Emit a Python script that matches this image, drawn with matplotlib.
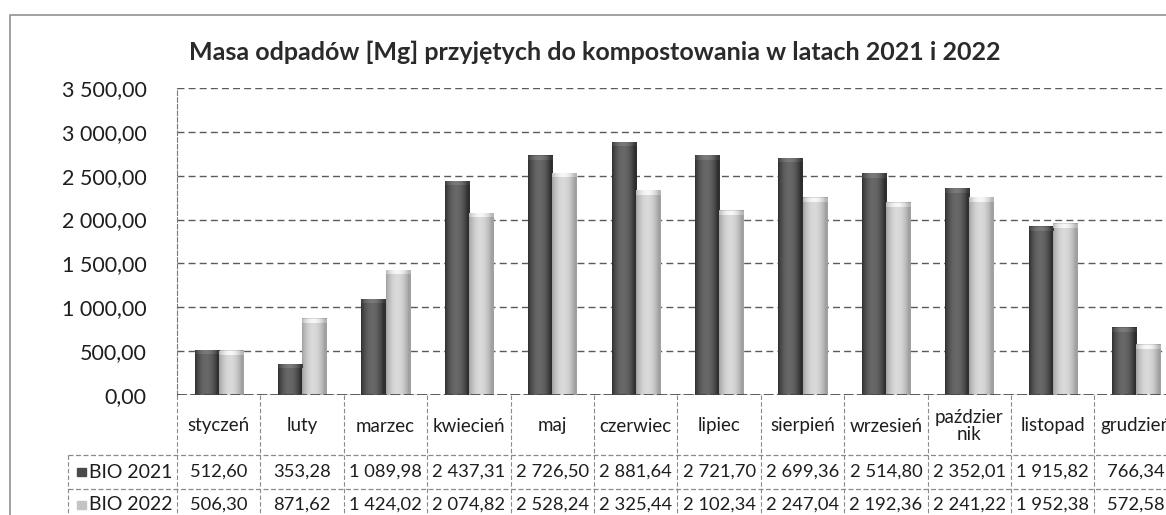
import numpy as np
import matplotlib
matplotlib.use("Agg")
import matplotlib.pyplot as plt
from matplotlib.lines import Line2D
from matplotlib.transforms import blended_transform_factory

months = ["styczeń", "luty", "marzec", "kwiecień", "maj", "czerwiec",
          "lipiec", "sierpień", "wrzesień", "paździer\nnik", "listopad", "grudzień"]
bio_2021 = [512.60, 353.28, 1089.98, 2437.31, 2726.50, 2881.64,
            2721.70, 2699.36, 2514.80, 2352.01, 1915.82, 766.34]
bio_2022 = [506.30, 871.62, 1424.02, 2074.82, 2528.24, 2325.44,
            2102.34, 2247.04, 2192.36, 2241.22, 1952.38, 572.58]
series_labels = ["BIO 2021", "BIO 2022"]
y_ticks = [0, 500, 1000, 1500, 2000, 2500, 3000, 3500]
title = "Masa odpadów [Mg] przyjętych do kompostowania w latach 2021 i 2022"

W, H = 1166, 515
plt.rcParams['font.family'] = ['Lato', 'DejaVu Sans']
TXT = '#1e1e1e'


def pl_format(v):
    """polish number format: 1 089,98"""
    return f"{v:,.2f}".replace(",", " ").replace(".", ",")


def shade_bar(ax, patch, edge, centre):
    # horizontal gradient, like the excel cylinder-ish fill
    t = np.linspace(0, 1, 64)
    prof = np.sin(np.pi * np.clip(t * 1.1, 0, 1)) ** 0.8
    e = np.array(matplotlib.colors.to_rgb(edge))
    c = np.array(matplotlib.colors.to_rgb(centre))
    img = e[None, :] + prof[:, None] * (c - e)[None, :]
    x0, w, h = patch.get_x(), patch.get_width(), patch.get_height()
    ax.imshow(img[None, :, :], extent=(x0, x0 + w, 0, h), aspect='auto',
              interpolation='bilinear', zorder=3)
    # slightly lighter rounded top, 4 px high
    cap = np.clip(img * 1.1 + 0.03, 0, 1)
    ch = 3500 * 4 / 307
    ax.imshow(cap[None, :, :], extent=(x0, x0 + w, h - ch, h), aspect='auto',
              interpolation='bilinear', zorder=4)


def plot_compost():
    fig = plt.figure(figsize=(W / 100, H / 100), dpi=100)
    fx = lambda x: x / W
    fy = lambda y: 1 - y / H

    # plot area: 12 columns of ~83.4 px from x=177 (cut off at the right), y 88..395 px
    ax = fig.add_axes([fx(177), fy(395), 12 * 83.4 / W, (395 - 88) / H])
    x = np.arange(len(months))
    bw = 0.29
    b1 = ax.bar(x - bw / 2, bio_2021, bw, color='#4a4a4a', zorder=2)
    b2 = ax.bar(x + bw / 2, bio_2022, bw, color='#c4c4c4', zorder=2)
    ax.set_autoscale_on(False)
    ax.set_xlim(-0.5, len(months) - 0.5)
    ax.set_ylim(0, 3500)
    for p in b1:
        shade_bar(ax, p, '#2e2e2e', '#686868')
    for p in b2:
        shade_bar(ax, p, '#a0a0a0', '#dadada')

    ax.set_yticks(y_ticks)
    ax.set_yticklabels([pl_format(v) for v in y_ticks], fontsize=15.5, color=TXT)
    ax.tick_params(axis='y', length=0, pad=22)
    ax.set_xticks([])
    ax.grid(axis='y', color='#5a5a5a', ls=(0, (5, 3)), lw=1.0, zorder=1)
    for s in ['top', 'right', 'bottom']:
        ax.spines[s].set_visible(False)
    ax.spines['left'].set_color('#777777')
    ax.spines['left'].set_linestyle((0, (4, 2)))
    ax.axhline(0, color='#444444', lw=1.2, ls=(0, (6, 2)), zorder=5)

    fig.text(fx(595), fy(52), title, ha='center', va='center',
             fontsize=18, fontweight='bold', color='#2a2a2a')

    # data table below the plot
    tr = blended_transform_factory(ax.transData, fig.transFigure)
    tcol = '#8a8a8a'
    for i, m in enumerate(months):
        ax.text(i, fy(426), m, transform=tr, ha='center', va='center',
                fontsize=13.5, color=TXT, linespacing=1.0, clip_on=False)
        ax.text(i, fy(472), pl_format(bio_2021[i]), transform=tr, ha='center',
                va='center', fontsize=13.2, color=TXT, clip_on=False)
        ax.text(i, fy(505), pl_format(bio_2022[i]), transform=tr, ha='center',
                va='center', fontsize=13.2, color=TXT, clip_on=False)
    for k in range(len(months) + 1):
        fig.add_artist(Line2D([k - 0.5, k - 0.5], [fy(395), fy(H + 5)], transform=tr,
                              color=tcol, lw=0.8, ls=(0, (4, 2))))
    for yy in (455, 489):
        fig.add_artist(Line2D([fx(68), 1.0], [fy(yy), fy(yy)], transform=fig.transFigure,
                              color=tcol, lw=0.9, ls=(0, (4, 2))))
    fig.add_artist(Line2D([fx(68), fx(68)], [fy(455), fy(H + 5)], transform=fig.transFigure,
                          color=tcol, lw=0.8, ls=(0, (4, 2))))

    # row labels with legend keys
    for lab, yy, col in zip(series_labels, (472, 505), ('#4a4a4a', '#c4c4c4')):
        fig.patches.append(plt.Rectangle((fx(77), fy(yy + 4)), fx(9), 8 / H,
                                         transform=fig.transFigure, color=col))
        fig.text(fx(89), fy(yy), lab, ha='left', va='center', fontsize=14, color=TXT)

    # outer chart border (right and bottom edges are cropped)
    fig.add_artist(Line2D([fx(10), fx(10), 1.0], [0, fy(15), fy(15)],
                          transform=fig.transFigure, color='#9a9a9a', lw=1.3))
    return fig


if __name__ == "__main__":
    fig = plot_compost()
    fig.savefig("out.png", dpi=100)
